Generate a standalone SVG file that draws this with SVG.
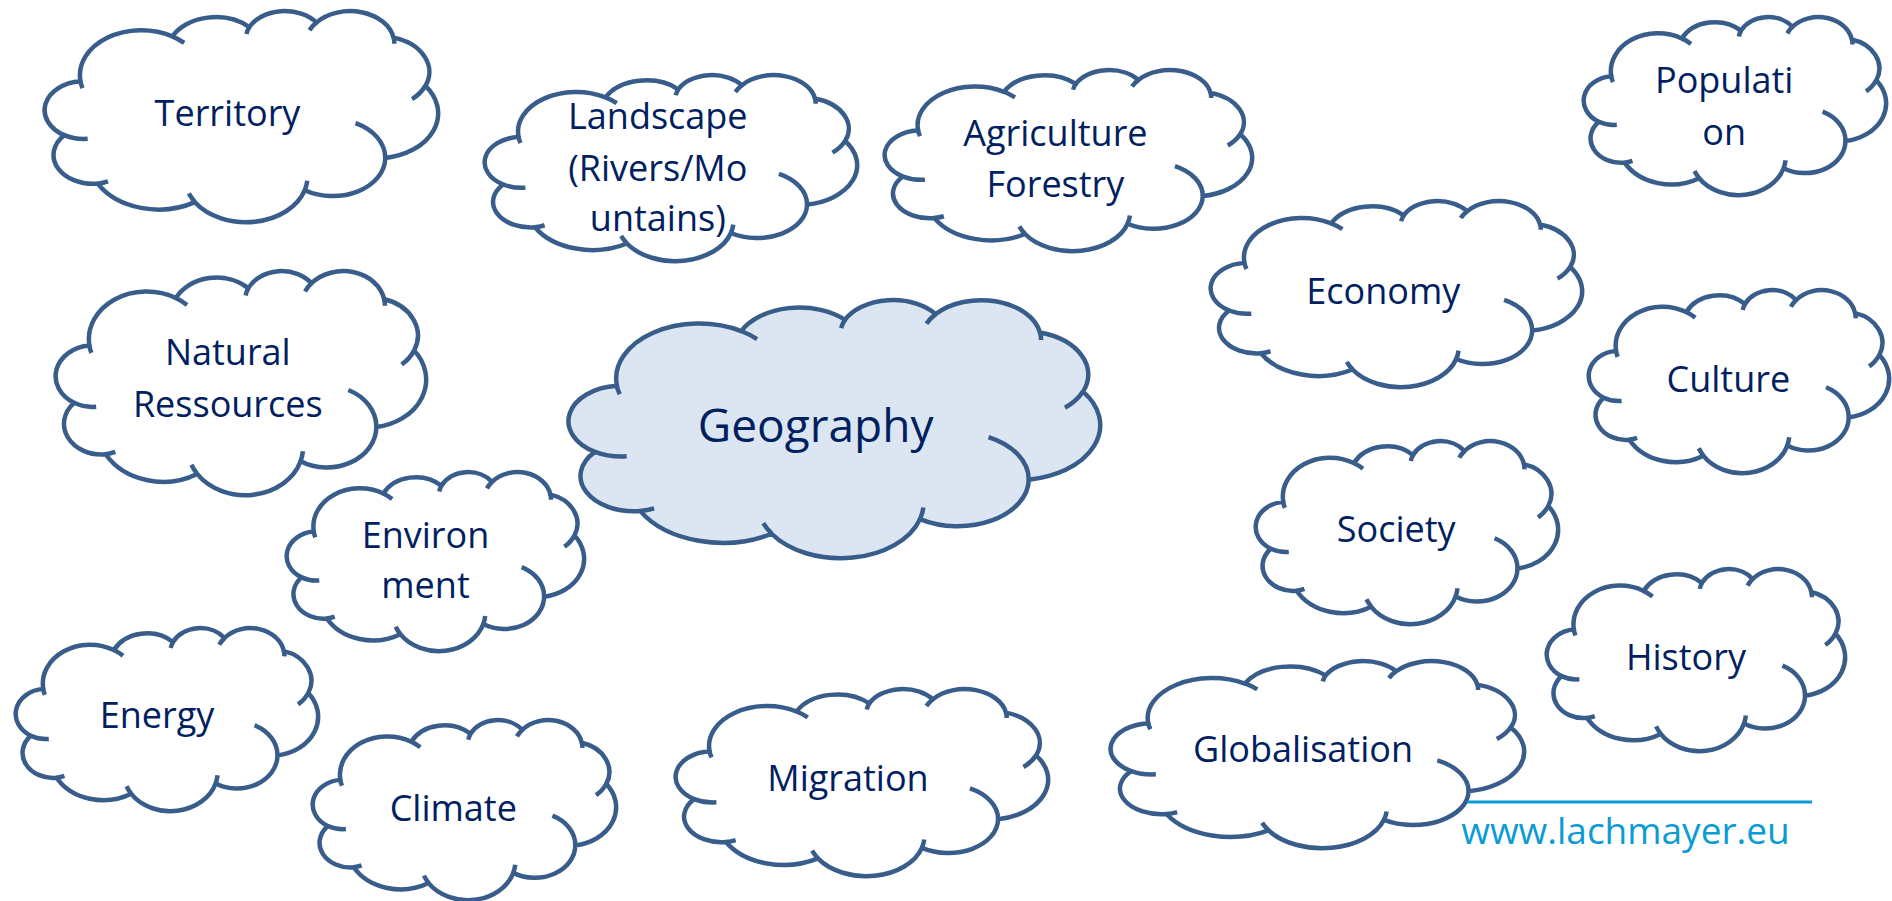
<svg xmlns="http://www.w3.org/2000/svg" width="1892" height="901" viewBox="0 0 1892 901">
<defs>
<style>
.cloud{fill:#ffffff;stroke:#385D8A;stroke-width:4.5;stroke-linecap:butt;stroke-linejoin:round}
.main{fill:#DCE6F2}
.lbl{font-family:"Open Sans","Noto Sans",sans-serif;font-size:36px;fill:#002060;text-anchor:middle}
.big{font-size:46px}
.url{font-family:"Open Sans","Noto Sans",sans-serif;font-size:37px;fill:#0B9BD5;text-anchor:middle}
</style>
<g id="cloudShape">
<path vector-effect="non-scaling-stroke" d="M39,143.7 A67.53,91.9 0 0 1 140.04,52.01 A53.33,72.67 0 0 1 224.55,33.11 A43.65,59.45 0 0 1 298.32,23.59 A48.57,65.95 0 0 1 383.17,54.54 A53.33,72.73 0 0 1 418.17,153.38 A67.75,92.2 0 0 1 374.03,300.81 A57.85,78.67 0 0 1 285.55,366.91 A67.52,92.15 0 0 1 164.8,391.42 A77.2,105.43 0 0 1 58.04,353.48 A43.6,59.18 0 0 1 21.13,254.26 A43.45,59.45 0 0 1 39,143.7 Z"/>
<path vector-effect="non-scaling-stroke" fill="none" d="M46.93,261.77 A43.45,59.45 0 0 1 21.13,254.26 M69.28,348.99 A43.6,59.18 0 0 1 58.04,353.48 M164.78,390.9 A67.52,92.15 0 0 1 158.1,373.5 M288.27,347.51 A67.52,92.15 0 0 1 285.55,366.91 M341.29,229.54 A57.85,78.67 0 0 1 374.03,300.81 M417.98,153.54 A53.33,72.73 0 0 1 403.5,180.31 M383.24,54.26 A48.57,65.95 0 0 1 384,66.9 M290.78,39.52 A48.57,65.95 0 0 1 298.32,23.59 M221.41,47.2 A43.65,59.45 0 0 1 224.55,33.11 M140,51.92 A67.53,91.9 0 0 1 153.01,65.41 M41.27,157.89 A67.53,91.9 0 0 1 38.68,141.93"/>
</g>
</defs>
<rect width="1892" height="901" fill="#ffffff"/>

<g id="territory">
<use href="#cloudShape" class="cloud" transform="translate(45 11) scale(0.90972 0.48843)"/>
<text class="lbl" x="227.5" y="126">Territory</text>
</g>
<g id="landscape">
<use href="#cloudShape" class="cloud" transform="translate(485 75) scale(0.86111 0.43056)"/>
<text class="lbl" x="657.8" y="128.5">Landscape</text>
<text class="lbl" x="657.8" y="180.5">(Rivers/Mo</text>
<text class="lbl" x="657.8" y="231">untains)</text>
</g>
<g id="agriculture">
<use href="#cloudShape" class="cloud" transform="translate(885 70) scale(0.84954 0.41898)"/>
<text class="lbl" x="1055.4" y="146">Agriculture</text>
<text class="lbl" x="1055.4" y="197">Forestry</text>
</g>
<g id="population">
<use href="#cloudShape" class="cloud" transform="translate(1584 17) scale(0.69907 0.41204)"/>
<text class="lbl" x="1724.2" y="93">Populati</text>
<text class="lbl" x="1724.2" y="145">on</text>
</g>
<g id="economy">
<use href="#cloudShape" class="cloud" transform="translate(1211 201) scale(0.85880 0.43056)"/>
<text class="lbl" x="1383.3" y="304">Economy</text>
</g>
<g id="natural-ressources">
<use href="#cloudShape" class="cloud" transform="translate(56 271) scale(0.85648 0.51852)"/>
<text class="lbl" x="227.8" y="365">Natural</text>
<text class="lbl" x="227.8" y="417">Ressources</text>
</g>
<g id="geography">
<use href="#cloudShape" class="cloud main" transform="translate(569 300) scale(1.22917 0.59722)"/>
<text class="lbl big" x="815.6" y="442">Geography</text>
</g>
<g id="culture">
<use href="#cloudShape" class="cloud" transform="translate(1589 290) scale(0.69444 0.42361)"/>
<text class="lbl" x="1728.3" y="392">Culture</text>
</g>
<g id="environment">
<use href="#cloudShape" class="cloud" transform="translate(287 472) scale(0.6875 0.41435)"/>
<text class="lbl" x="425.5" y="548">Environ</text>
<text class="lbl" x="425.5" y="598">ment</text>
</g>
<g id="society">
<use href="#cloudShape" class="cloud" transform="translate(1256 441) scale(0.69907 0.42361)"/>
<text class="lbl" x="1396.2" y="542">Society</text>
</g>
<g id="history">
<use href="#cloudShape" class="cloud" transform="translate(1547 569) scale(0.68981 0.42130)"/>
<text class="lbl" x="1686" y="670">History</text>
</g>
<g id="energy">
<use href="#cloudShape" class="cloud" transform="translate(16 628) scale(0.69907 0.42361)"/>
<text class="lbl" x="157" y="728">Energy</text>
</g>
<g id="climate">
<use href="#cloudShape" class="cloud" transform="translate(313 720) scale(0.70139 0.41667)"/>
<text class="lbl" x="453.3" y="821">Climate</text>
</g>
<g id="migration">
<use href="#cloudShape" class="cloud" transform="translate(676 689) scale(0.86111 0.43287)"/>
<text class="lbl" x="848" y="791">Migration</text>
</g>
<g id="globalisation">
<use href="#cloudShape" class="cloud" transform="translate(1111 661) scale(0.95602 0.43287)"/>
<text class="lbl" x="1303" y="762">Globalisation</text>
</g>

<g id="footer">
<line x1="1467" y1="802" x2="1812" y2="802" stroke="#0B9BD5" stroke-width="3"/>
<text class="url" x="1625.5" y="844">www.lachmayer.eu</text>
</g>
</svg>
